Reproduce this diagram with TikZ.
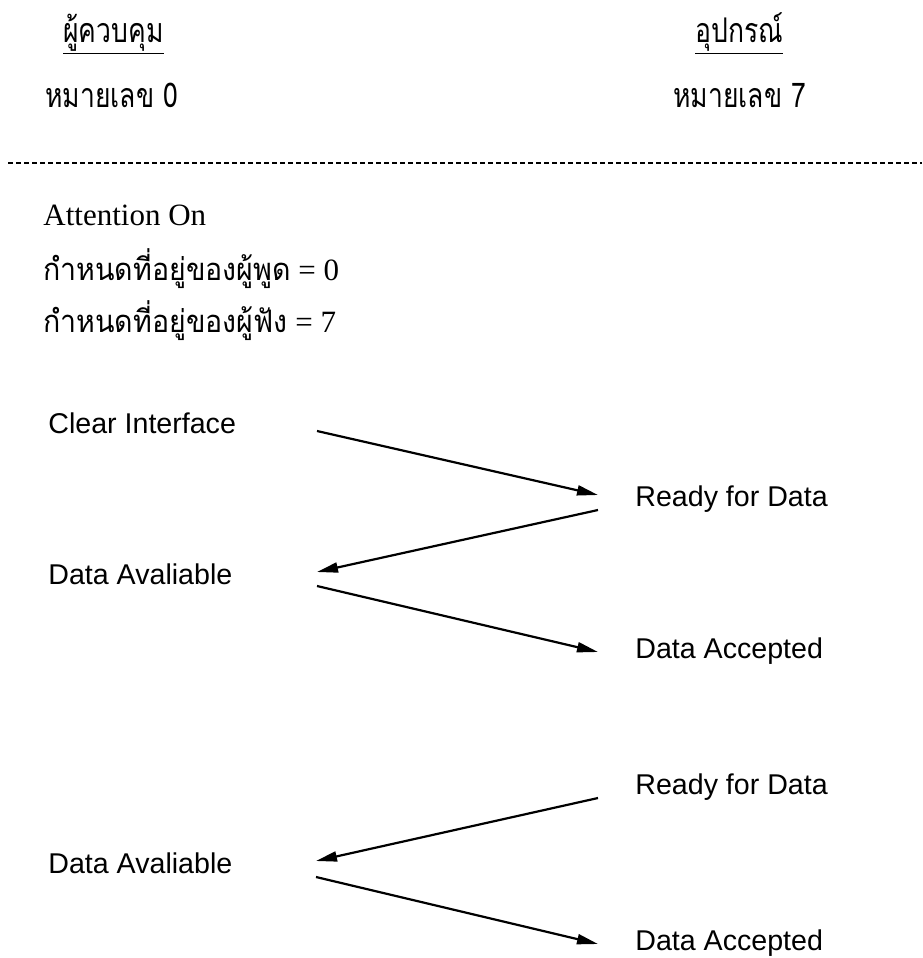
\documentclass[tikz,border=0pt]{standalone}
\usepackage{fontspec}
\setmainfont{Liberation Serif}
\newfontfamily\thaifont[Script=Thai,FakeStretch=0.92]{Loma}
\newfontfamily\thaihead[Script=Thai,FakeStretch=0.78]{Loma}
\newfontfamily\arialfont{Liberation Sans}
\usetikzlibrary{arrows.meta}
\tikzset{
  head/.style={
    anchor=base west, inner sep=0pt,
    font=\thaihead\fontsize{17}{20}\selectfont
  },
  cmd/.style={
    anchor=base west, inner sep=0pt,
    font=\fontsize{15.5}{18}\selectfont
  },
  sig/.style={
    anchor=base west, inner sep=0pt,
    font=\arialfont\fontsize{14.3}{17}\selectfont
  },
  msg/.style={
    -{Triangle[length=10.5pt,width=5pt]}, line width=1.1pt
  }
}

\begin{document}
\begin{tikzpicture}[x=0.5pt, y=-0.5pt]
    \useasboundingbox (0,0) rectangle (922,958);

    % Headers
    \node[head] (ctrl) at (63,42) {\underline{ผู้ควบคุม}};
    \node[head] (ctrlno) at (45,107) {หมายเลข 0};
    \node[head] (dev) at (695,42) {\underline{อุปกรณ์}};
    \node[head] (devno) at (673,107) {หมายเลข 7};

    % Separator
    \draw[dash pattern=on 2.5pt off 1.5pt, line width=0.6pt] (8,163) -- (922,163);

    % Addressing
    \node[cmd] (atn) at (43,225) {Attention On};
    \node[cmd] (talk) at (43,280) {{\thaifont กำหนดที่อยู่ของผู้พูด} = 0};
    \node[cmd] (listen) at (43,332) {{\thaifont กำหนดที่อยู่ของผู้ฟัง} = 7};

    % Handshake labels
    \node[sig] (clr) at (48,433) {Clear Interface};
    \node[sig] (rdy1) at (635,506) {Ready for Data};
    \node[sig] (dav1) at (48,584) {Data Avaliable};
    \node[sig] (dac1) at (635,658) {Data Accepted};
    \node[sig] (rdy2) at (635,794) {Ready for Data};
    \node[sig] (dav2) at (48,873) {Data Avaliable};
    \node[sig] (dac2) at (635,950) {Data Accepted};

    % Arrow ends
    \coordinate (clrout) at (317,431);
    \coordinate (rdy1in) at (598,495);
    \coordinate (rdy1out) at (598,510);
    \coordinate (dav1in) at (317,572);
    \coordinate (dav1out) at (317,586);
    \coordinate (dac1in) at (598,652);
    \coordinate (rdy2out) at (598,798);
    \coordinate (dav2in) at (316,861);
    \coordinate (dav2out) at (316,877);
    \coordinate (dac2in) at (598,944);

    % Messages
    \draw[msg] (clrout) -- (rdy1in);
    \draw[msg] (rdy1out) -- (dav1in);
    \draw[msg] (dav1out) -- (dac1in);
    \draw[msg] (rdy2out) -- (dav2in);
    \draw[msg] (dav2out) -- (dac2in);
\end{tikzpicture}
\end{document}
